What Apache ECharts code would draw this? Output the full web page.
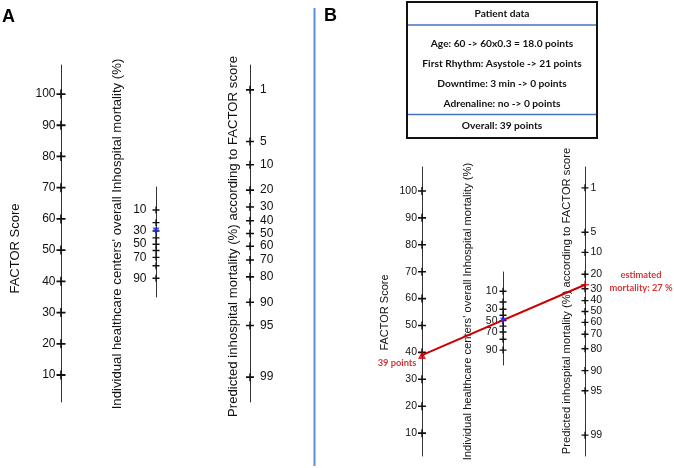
<!DOCTYPE html>
<html><head><meta charset="utf-8">
<script src="https://cdn.jsdelivr.net/npm/echarts@6/dist/echarts.min.js"></script>
<style>html,body{margin:0;padding:0;background:#fff}#c{width:674px;height:468px}</style>
</head><body><div id="c"></div>
<script>
// ---------- data ----------
const factorTicks = [10, 20, 30, 40, 50, 60, 70, 80, 90, 100];
const centerTicks = [10, 20, 30, 40, 50, 60, 70, 80, 90];
const centerLabels = [10, 30, 50, 70, 90];
const predTicks = [1, 5, 10, 20, 30, 40, 50, 60, 70, 80, 90, 95, 99];
const factorName = 'FACTOR Score';
const centerName = "Individual healthcare centers' overall Inhospital mortality (%)";
const predName = 'Predicted inhospital mortality (%) according to FACTOR score';
const centerMarkA = 30;
const centerMarkB = 50;
const patientScore = 39;
const estimatedMortality = 27;
const boxTitle = 'Patient data';
const patientLines = ['Age: 60 -> 60x0.3 = 18.0 points', 'First Rhythm: Asystole -> 21 points', 'Downtime: 3 min -> 0 points', 'Adrenaline: no -> 0 points'];
const overallLine = 'Overall: 39 points';
const scoreText = '39 points';
const estText = 'estimated\nmortality: 27 %';

// ---------- layout ----------
const logit = p => Math.log((p / 100) / (1 - p / 100));
const FONT = 'Liberation Sans, Arial, sans-serif';
const CAL = 'Lato, sans-serif';
const PLUS = 'path://M0,4H10V6H0ZM4.1,0H5.9V10H4.1Z';

const axes = [
  {x: 61,  top: 65,  bottom: 402, min: 1.35, max: 109.3, kind: 'lin',   ticks: factorTicks, labels: factorTicks, font: 12,   tick: 9, side: 'left',  dist: 1, name: factorName, nameX: 15,  nameY: 248.5, nameSize: 13},
  {x: 156, top: 187, bottom: 297, min: -3.68, max: 3.40, kind: 'logit', ticks: centerTicks, labels: centerLabels, font: 12, tick: 7, side: 'left',  dist: 6, name: centerName, nameX: 117, nameY: 234, nameSize: 13.2},
  {x: 250, top: 65,  bottom: 402, min: -5.39, max: 5.39, kind: 'logit', ticks: predTicks, labels: predTicks, font: 12,       tick: 8, side: 'right', dist: 6, name: predName, nameX: 233, nameY: 236.5, nameSize: 13.2},
  {x: 422, top: 167, bottom: 456, min: 1.5, max: 108.9,  kind: 'lin',   ticks: factorTicks, labels: factorTicks, font: 10.5, tick: 8, side: 'left',  dist: 1, name: factorName, nameX: 385, nameY: 312.5, nameSize: 11},
  {x: 503, top: 272, bottom: 365, min: -3.63, max: 3.31, kind: 'logit', ticks: centerTicks, labels: centerLabels, font: 10.5, tick: 7, side: 'left', dist: 2, name: centerName, nameX: 468, nameY: 311.5, nameSize: 11.2},
  {x: 585, top: 167, bottom: 456, min: -5.37, max: 5.37, kind: 'logit', ticks: predTicks, labels: predTicks, font: 10.5,     tick: 7, side: 'right', dist: 2, name: predName, nameX: 567, nameY: 301, nameSize: 11.2}
];
const tr = (a, v) => a.kind === 'logit' ? logit(v) : v;

const grid = [], xAxis = [], yAxis = [], series = [];
axes.forEach((a, i) => {
  grid.push({left: a.x, top: a.top, height: a.bottom - a.top, width: 1, containLabel: false});
  xAxis.push({gridIndex: i, type: 'value', min: 0, max: 1, show: false});
  yAxis.push({gridIndex: i, type: 'value', min: a.min, max: a.max, inverse: a.kind === 'logit',
    axisLine: {show: true, lineStyle: {color: '#333', width: 1}},
    axisTick: {show: false}, axisLabel: {show: false}, splitLine: {show: false}});
  series.push({
    type: 'scatter', xAxisIndex: i, yAxisIndex: i, clip: false, silent: true, z: 3,
    symbol: PLUS, symbolSize: a.tick, itemStyle: {color: '#111', opacity: 1},
    label: {show: true, position: a.side, distance: a.dist, fontSize: a.font, fontFamily: FONT, color: '#111'},
    data: a.ticks.map(v => ({value: [0, tr(a, v)], label: {show: a.labels.includes(v), formatter: String(v)}}))
  });
});
// blue centre markers
series.push({type: 'scatter', xAxisIndex: 1, yAxisIndex: 1, clip: false, z: 6, symbol: 'triangle', symbolRotate: 180, symbolSize: 7,
  itemStyle: {color: '#1f2bff'}, data: [[0, logit(centerMarkA)]]});
series.push({type: 'scatter', xAxisIndex: 4, yAxisIndex: 4, clip: false, z: 6, symbol: 'triangle', symbolRotate: 180, symbolSize: 6,
  itemStyle: {color: '#1f2bff'}, data: [[0, logit(centerMarkB)]]});
// red patient marker
series.push({type: 'scatter', xAxisIndex: 3, yAxisIndex: 3, clip: false, z: 8, symbol: 'triangle', symbolSize: 8,
  itemStyle: {color: '#cc0000'},
  label: {show: true, position: 'inside', offset: [-25, 8], formatter: scoreText, color: '#cc0000', fontFamily: CAL, fontWeight: 'bold', fontSize: 9.3},
  data: [[0, patientScore]]});
// red estimated mortality marker
series.push({type: 'scatter', xAxisIndex: 5, yAxisIndex: 5, clip: false, z: 8, symbol: PLUS, symbolSize: 8,
  itemStyle: {color: '#cc0000'},
  label: {show: true, position: 'inside', offset: [56, -3], align: 'center', formatter: estText, color: '#cc0000', fontFamily: CAL, fontWeight: 'bold', fontSize: 9.3, lineHeight: 12.5},
  data: [[0, logit(estimatedMortality)]]});

const chart = echarts.init(document.getElementById('c'), null, {renderer: 'canvas'});
chart.setOption({animation: false, backgroundColor: '#fff', grid, xAxis, yAxis, series});

// ---------- graphics ----------
const g = [];
axes.forEach((a, i) => {
  g.push({type: 'text', x: a.nameX, y: a.nameY, rotation: Math.PI / 2,
    style: {text: a.name, textAlign: 'center', textVerticalAlign: 'middle', font: a.nameSize + 'px ' + FONT, fill: '#111'}});
});
g.push({type: 'text', x: 2, y: 8, style: {text: 'A', font: 'bold 18px ' + FONT, fill: '#000'}});
g.push({type: 'text', x: 324, y: 7, style: {text: 'B', font: 'bold 18px ' + FONT, fill: '#000'}});
g.push({type: 'line', shape: {x1: 314.5, y1: 8, x2: 314.5, y2: 466}, style: {stroke: '#5b8fd9', lineWidth: 2}});
// patient box
g.push({type: 'rect', shape: {x: 407, y: 2, width: 190, height: 136}, style: {fill: '#fff', stroke: '#111', lineWidth: 2}});
g.push({type: 'line', shape: {x1: 408, y1: 25, x2: 596, y2: 25}, style: {stroke: '#4472c4', lineWidth: 1.5}});
g.push({type: 'line', shape: {x1: 408, y1: 114.5, x2: 596, y2: 114.5}, style: {stroke: '#4472c4', lineWidth: 1.5}});
const boxFont = 'bold 10.2px ' + CAL;
g.push({type: 'text', x: 502, y: 14, style: {text: boxTitle, textAlign: 'center', textVerticalAlign: 'middle', font: boxFont, fill: '#111'}});
patientLines.forEach((t, k) => {
  g.push({type: 'text', x: 502, y: 43.3 + k * 20.3, style: {text: t, textAlign: 'center', textVerticalAlign: 'middle', font: boxFont, fill: '#111'}});
});
g.push({type: 'text', x: 502, y: 126, style: {text: overallLine, textAlign: 'center', textVerticalAlign: 'middle', font: boxFont, fill: '#111'}});
// red connecting line through library scales
const p1 = chart.convertToPixel({xAxisIndex: 3, yAxisIndex: 3}, [0, patientScore]);
const p2 = chart.convertToPixel({xAxisIndex: 5, yAxisIndex: 5}, [0, logit(estimatedMortality)]);
g.push({type: 'line', z: 5, shape: {x1: p1[0], y1: p1[1], x2: p2[0], y2: p2[1]}, style: {stroke: '#cc0000', lineWidth: 2}});
chart.setOption({graphic: g});
</script></body></html>
